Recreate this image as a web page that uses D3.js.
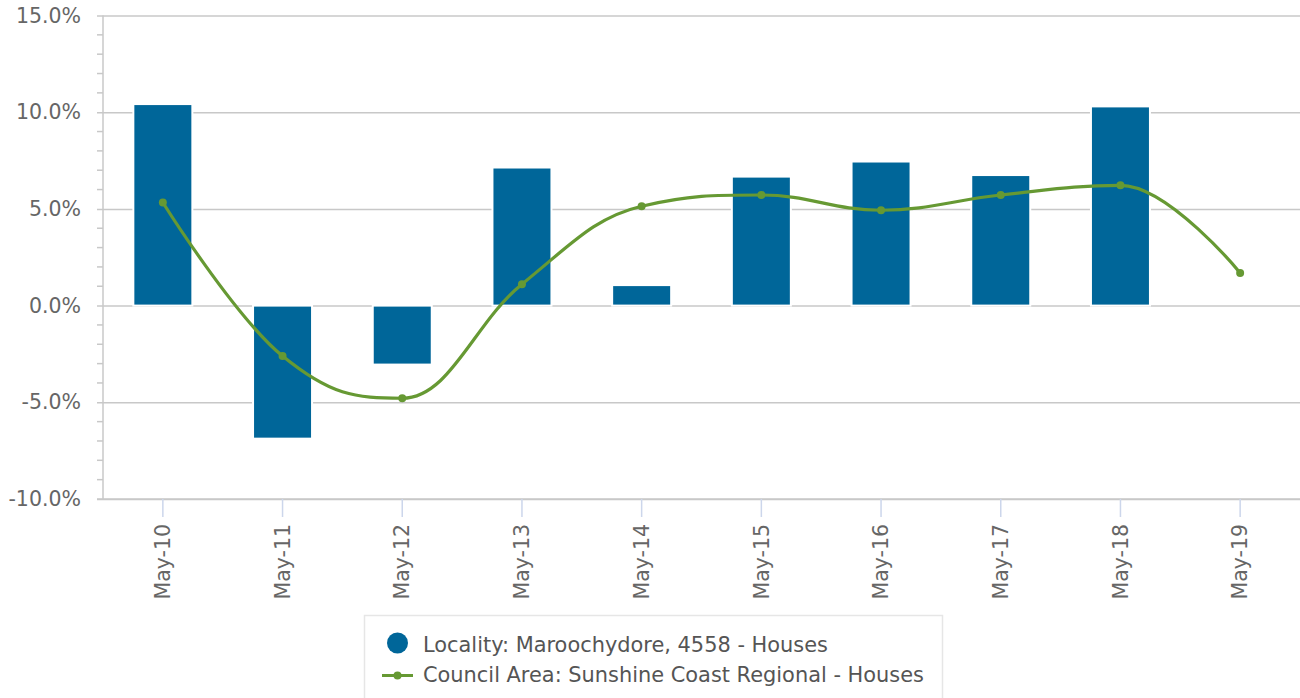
<!DOCTYPE html>
<html>
<head>
<meta charset="utf-8">
<script src="https://cdn.jsdelivr.net/npm/d3@7"></script>
<style>
  html, body { margin: 0; padding: 0; background: #fff; }
  svg { display: block; font-family: "DejaVu Sans", sans-serif; }
</style>
</head>
<body>
<script>
const width = 1300
const height = 698

// chart data
const categories = ["May-10", "May-11", "May-12", "May-13", "May-14", "May-15", "May-16", "May-17", "May-18", "May-19"]
const localityValues = [10.42, -6.88, -3.05, 7.14, 1.06, 6.67, 7.45, 6.75, 10.3, 0]
const councilValues = [5.33, -2.61, -4.79, 1.11, 5.14, 5.72, 4.93, 5.72, 6.22, 1.69]
const yTicks = [-10, -5, 0, 5, 10, 15]
const seriesNames = ["Locality: Maroochydore, 4558 - Houses", "Council Area: Sunshine Coast Regional - Houses"]

const barColor = "#006699"
const lineColor = "#669933"
const gridColor = "#c8c8c8"
const labelColor = "#666666"

const plot = { left: 103, right: 1300, top: 15.5, bottom: 499 }

const svg = d3.select("body").append("svg")
    .attr("width", width)
    .attr("height", height)

const x = d3.scaleBand()
    .domain(categories)
    .range([plot.left, plot.right])
const cx = c => x(c) + x.bandwidth() / 2

const y = d3.scaleLinear()
    .domain([-10, 15])
    .range([plot.bottom, plot.top])

// minor ticks every 1%
const minorTicks = d3.range(-10, 15.01, 1).filter(v => v % 5 !== 0)
svg.append("g")
    .selectAll("line")
    .data(minorTicks)
    .join("line")
    .attr("x1", plot.left - 6).attr("x2", plot.left)
    .attr("y1", d => y(d)).attr("y2", d => y(d))
    .attr("stroke", gridColor).attr("stroke-width", 1.5)

// gridlines + y axis
const yAxis = svg.append("g")
    .attr("transform", `translate(${plot.left},0)`)
    .call(d3.axisLeft(y)
        .tickValues(yTicks)
        .tickSize(-(plot.right - plot.left))
        .tickPadding(22)
        .tickFormat(d => d.toFixed(1) + "%"))
yAxis.select(".domain").remove()
yAxis.selectAll(".tick line")
    .attr("x2", plot.right - plot.left)
    .attr("x1", -6)
    .attr("stroke", gridColor)
    .attr("stroke-width", 1.5)
yAxis.selectAll(".tick text")
    .attr("fill", labelColor)
    .attr("font-size", 20.5)
    .attr("font-family", "DejaVu Sans, sans-serif")

// y axis line
svg.append("line")
    .attr("x1", plot.left).attr("x2", plot.left)
    .attr("y1", plot.top).attr("y2", plot.bottom)
    .attr("stroke", gridColor).attr("stroke-width", 1.5)

// x axis
const xAxis = svg.append("g")
    .attr("transform", `translate(0,${plot.bottom})`)
    .call(d3.axisBottom(x).tickSize(18).tickPadding(6))
xAxis.select(".domain")
    .attr("d", `M${plot.left - 6},0H${plot.right}`)
    .attr("stroke", gridColor)
    .attr("stroke-width", 1.5)
xAxis.selectAll(".tick line")
    .attr("stroke", "#ccd6eb")
    .attr("stroke-width", 1.5)
xAxis.selectAll(".tick text")
    .attr("fill", labelColor)
    .attr("font-size", 20.5)
    .attr("font-family", "DejaVu Sans, sans-serif")
    .attr("text-anchor", "end")
    .attr("transform", "translate(0,25) rotate(-90)")
    .attr("x", 0).attr("y", 0)
    .attr("dy", "0.35em")

// bars
const barW = 59
svg.append("g")
    .selectAll("rect")
    .data(categories.map((c, i) => ({ c, v: localityValues[i] })))
    .join("rect")
    .attr("x", d => cx(d.c) - barW / 2)
    .attr("width", barW)
    .attr("y", d => y(Math.max(0, d.v)))
    .attr("height", d => Math.abs(y(d.v) - y(0)))
    .attr("fill", barColor)
    .attr("stroke", "#ffffff")
    .attr("stroke-width", 2)

// highcharts-like spline through pixel points
function splinePath(pts) {
    const s = 1.5, den = s + 1
    const ctrl = pts.map((p, i) => {
        if (i === 0 || i === pts.length - 1) return null
        const last = pts[i - 1], next = pts[i + 1]
        let lcx = (s * p.x + last.x) / den, lcy = (s * p.y + last.y) / den
        let rcx = (s * p.x + next.x) / den, rcy = (s * p.y + next.y) / den
        if (rcx !== lcx) {
            const corr = ((rcy - lcy) * (rcx - p.x)) / (rcx - lcx) + p.y - rcy
            lcy += corr
            rcy += corr
        }
        if (lcy > Math.max(last.y, p.y)) { lcy = Math.max(last.y, p.y); rcy = 2 * p.y - lcy }
        else if (lcy < Math.min(last.y, p.y)) { lcy = Math.min(last.y, p.y); rcy = 2 * p.y - lcy }
        if (rcy > Math.max(next.y, p.y)) { rcy = Math.max(next.y, p.y); lcy = 2 * p.y - rcy }
        else if (rcy < Math.min(next.y, p.y)) { rcy = Math.min(next.y, p.y); lcy = 2 * p.y - rcy }
        return { lcx, lcy, rcx, rcy }
    })
    let d = `M${pts[0].x},${pts[0].y}`
    for (let i = 1; i < pts.length; i++) {
        const a = ctrl[i - 1] || { rcx: pts[i - 1].x, rcy: pts[i - 1].y }
        const b = ctrl[i] || { lcx: pts[i].x, lcy: pts[i].y }
        d += `C${a.rcx},${a.rcy} ${b.lcx},${b.lcy} ${pts[i].x},${pts[i].y}`
    }
    return d
}

const linePts = categories.map((c, i) => ({ x: cx(c), y: y(councilValues[i]) }))

svg.append("path")
    .attr("d", splinePath(linePts))
    .attr("fill", "none")
    .attr("stroke", lineColor)
    .attr("stroke-width", 3.2)
    .attr("stroke-linejoin", "round")
    .attr("stroke-linecap", "round")

svg.append("g")
    .selectAll("circle")
    .data(linePts)
    .join("circle")
    .attr("cx", d => d.x)
    .attr("cy", d => d.y)
    .attr("r", 4)
    .attr("fill", lineColor)

// legend
const legend = svg.append("g")
legend.append("rect")
    .attr("x", 364.5).attr("y", 615.5)
    .attr("width", 578).attr("height", 100)
    .attr("fill", "#fff")
    .attr("stroke", "#e6e6e6")
    .attr("stroke-width", 1.5)

legend.append("circle")
    .attr("cx", 397.5).attr("cy", 643)
    .attr("r", 10.5)
    .attr("fill", barColor)
legend.append("line")
    .attr("x1", 382).attr("x2", 413)
    .attr("y1", 675.5).attr("y2", 675.5)
    .attr("stroke", lineColor).attr("stroke-width", 3)
legend.append("circle")
    .attr("cx", 397.5).attr("cy", 675.5)
    .attr("r", 4)
    .attr("fill", lineColor)

legend.selectAll("text")
    .data(seriesNames)
    .join("text")
    .attr("x", 423)
    .attr("y", (d, i) => 651.5 + i * 30)
    .attr("fill", "#555555")
    .attr("font-size", 20.9)
    .text(d => d)
</script>
</body>
</html>
